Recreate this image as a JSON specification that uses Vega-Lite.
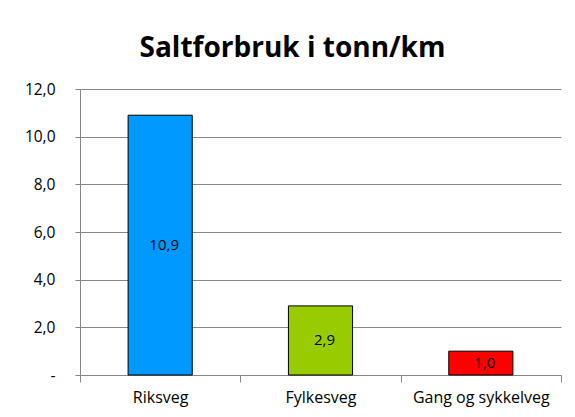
{
  "$schema": "https://vega.github.io/schema/vega-lite/v6.json",
  "width": 481,
  "height": 286,
  "autosize": "none",
  "padding": {"left": 80, "top": 89, "right": 14, "bottom": 42},
  "background": "white",
  "title": {
    "text": "Saltforbruk i tonn/km",
    "font": "Open Sans",
    "fontSize": 28,
    "fontWeight": "bold",
    "color": "#000000",
    "anchor": "middle",
    "frame": "group",
    "baseline": "alphabetic",
    "offset": 34,
    "dx": -28,
    "dy": 37
  },
  "data": {
    "values": [
      {"kategori": "Riksveg", "verdi": 10.9, "label": "10,9"},
      {"kategori": "Fylkesveg", "verdi": 2.9, "label": "2,9"},
      {"kategori": "Gang og sykkelveg", "verdi": 1.0, "label": "1,0"}
    ]
  },
  "encoding": {
    "x": {
      "field": "kategori",
      "type": "nominal",
      "sort": null,
      "scale": {"paddingInner": 0, "paddingOuter": 0},
      "axis": {
        "title": null,
        "labelAngle": 0,
        "labelFont": "Open Sans",
        "labelFontSize": 16,
        "labelColor": "#000000",
        "labelPadding": 7,
        "tickBand": "extent",
        "tickSize": 7,
        "tickColor": "#868686",
        "domainColor": "#868686",
        "grid": false
      }
    }
  },
  "layer": [
    {
      "mark": {"type": "bar", "width": {"band": 0.4}, "stroke": "#000000", "strokeWidth": 1},
      "encoding": {
        "y": {
          "field": "verdi",
          "type": "quantitative",
          "scale": {"domain": [0, 12]},
          "axis": {
            "title": null,
            "values": [0, 2, 4, 6, 8, 10, 12],
            "labelExpr": "datum.value == 0 ? '-\u00a0' : replace(format(datum.value, '.1f'), '.', ',')",
            "labelFont": "Open Sans",
            "labelFontSize": 15.5,
            "labelColor": "#000000",
            "labelPadding": 20,
            "tickSize": 5,
            "tickColor": "#868686",
            "domainColor": "#868686",
            "gridColor": "#868686",
            "grid": true
          }
        },
        "color": {
          "field": "kategori",
          "type": "nominal",
          "scale": {
            "domain": ["Riksveg", "Fylkesveg", "Gang og sykkelveg"],
            "range": ["#0099FF", "#99CC00", "#FF0000"]
          },
          "legend": null
        }
      }
    },
    {
      "mark": {"type": "text", "font": "Open Sans", "fontSize": 15, "color": "#000000", "baseline": "middle", "dx": 4},
      "encoding": {
        "y": {
          "field": "verdi",
          "type": "quantitative",
          "scale": {"domain": [0, 24]},
          "axis": null
        },
        "text": {"field": "label"}
      }
    }
  ],
  "resolve": {"scale": {"y": "independent"}},
  "config": {"view": {"stroke": null}}
}
